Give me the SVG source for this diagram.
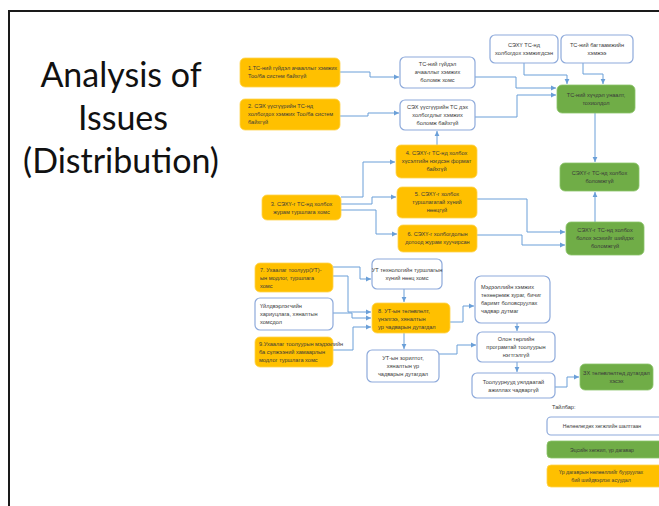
<svg xmlns="http://www.w3.org/2000/svg" width="659" height="506" viewBox="0 0 659 506">
  <style>
    .frame { fill: none; stroke: #1a1a1a; stroke-width: 2; }
    .title { font-family: Lato, "Open Sans", sans-serif; font-size: 34px; fill: #111; text-anchor: middle; }
    .w { fill: #ffffff; stroke: #8eaadb; stroke-width: 1.2; }
    .o { fill: #ffc000; stroke: #ffd34d; stroke-width: 0.8; }
    .g { fill: #70ad47; stroke: #8cc46a; stroke-width: 0.8; }
    .t { font-family: "Liberation Sans", Arial, sans-serif; font-size: 5.6px; fill: #3a3a3a; text-anchor: middle; }
    .tl { font-family: "Liberation Sans", Arial, sans-serif; font-size: 5.6px; fill: #3a3a3a; }
    .lg { font-family: "Liberation Sans", Arial, sans-serif; font-size: 5.1px; fill: #3a3a3a; text-anchor: middle; }
    .c { fill: none; stroke: #6a9fd8; stroke-width: 1; marker-end: url(#ah); }
  </style>
  <defs>
    <marker id="ah" markerWidth="6" markerHeight="6" refX="5" refY="3" orient="auto" markerUnits="userSpaceOnUse">
      <path d="M0,0.6 L5,3 L0,5.4 Z" fill="#6a9fd8"/>
    </marker>
  </defs>

  <rect width="659" height="506" fill="#ffffff"/>
  <!-- slide frame -->
  <path class="frame" d="M9,506 V11 H659"/>

  <!-- slide title -->
  <g id="title">
    <text class="title" x="121" y="87">Analysis of</text>
    <text class="title" x="123" y="130">Issues</text>
    <text class="title" x="121" y="173">(Distribution)</text>
  </g>

  <!-- connectors -->
  <g id="connectors">
    <path class="c" d="M340,72 H370 V77 H399"/>
    <path class="c" d="M340,116 H368 V113 H399"/>
    <path class="c" d="M475,77 H516 V88 H556"/>
    <path class="c" d="M475,117 H517 V95 H556"/>
    <path class="c" d="M524,63 V75 H567 V84"/>
    <path class="c" d="M583,63 V74 H603 V84"/>
    <path class="c" d="M595,113 V162"/>
    <path class="c" d="M595,222 V192"/>
    <path class="c" d="M437,145 V131"/>
    <path class="c" d="M341,197 H363 V162 H395"/>
    <path class="c" d="M341,204 H372 V197 H396"/>
    <path class="c" d="M341,210 H376 V234 H397"/>
    <path class="c" d="M477,199 H527 V232 H565"/>
    <path class="c" d="M477,235 H522 V245 H565"/>
    <path class="c" d="M333,267 H360 V279 H371"/>
    <path class="c" d="M333,276 H348 V312 H371"/>
    <path class="c" d="M333,313 H352 V318 H371"/>
    <path class="c" d="M333,350 H353 V327 H371"/>
    <path class="c" d="M404,289 V302"/>
    <path class="c" d="M404,333 V349"/>
    <path class="c" d="M450,322 H463 V306 H474"/>
    <path class="c" d="M439,354 H457 V345 H476"/>
    <path class="c" d="M517,323 V331"/>
    <path class="c" d="M517,362 V372"/>
    <path class="c" d="M555,387 H567 V377 H579"/>
  </g>

  <!-- upper block -->
  <g id="n1">
    <rect class="o" x="240" y="58" width="100" height="29" rx="5"/>
    <text class="tl" x="248" y="70">1.ТС-ний гүйдэл ачааллыг хэмжих</text>
    <text class="tl" x="248" y="78">Тоо/ба систем байхгүй</text>
  </g>
  <g id="n2">
    <rect class="o" x="240" y="99" width="100" height="31" rx="5"/>
    <text class="tl" x="248" y="108">2. СЭХ үүсгүүрийн ТС-нд</text>
    <text class="tl" x="248" y="116">холбогдох хэмжих Тоо/ба систем</text>
    <text class="tl" x="248" y="124">байхгүй</text>
  </g>
  <g id="nA">
    <rect class="w" x="400" y="57" width="75" height="31" rx="5"/>
    <text class="t" x="437.5" y="66">ТС-ний гүйдэл</text>
    <text class="t" x="437.5" y="74">ачааллыг хэмжих</text>
    <text class="t" x="437.5" y="82">боломж хомс</text>
  </g>
  <g id="nB">
    <rect class="w" x="400" y="100" width="75" height="30" rx="5"/>
    <text class="t" x="437.5" y="109">СЭХ үүсгүүрийн ТС дэх</text>
    <text class="t" x="437.5" y="117">холбогдлыг хэмжих</text>
    <text class="t" x="437.5" y="125">боломж байхгүй</text>
  </g>
  <g id="nC">
    <rect class="w" x="490" y="35" width="68" height="28" rx="5"/>
    <text class="t" x="524" y="47">СЭХҮ ТС-нд</text>
    <text class="t" x="524" y="55">холбогдох хэмжигдсэн</text>
  </g>
  <g id="nD">
    <rect class="w" x="561" y="35" width="72" height="28" rx="5"/>
    <text class="t" x="597" y="47">ТС-ний багтаамжийн</text>
    <text class="t" x="597" y="55">хэмжээ</text>
  </g>
  <g id="nG1">
    <rect class="g" x="557" y="85" width="78" height="28" rx="5"/>
    <text class="t" x="596" y="97">ТС-ний хүчдэл унаалт,</text>
    <text class="t" x="596" y="105">тохиолдол</text>
  </g>
  <g id="nG2">
    <rect class="g" x="560" y="163" width="79" height="28" rx="5"/>
    <text class="t" x="599.5" y="175">СЭХҮ-г ТС-нд холбох</text>
    <text class="t" x="599.5" y="183">боломжгүй</text>
  </g>
  <g id="nG3">
    <rect class="g" x="566" y="222" width="78" height="33" rx="5"/>
    <text class="t" x="605" y="232">СЭХҮ-г ТС-нд холбох</text>
    <text class="t" x="605" y="240">болох эсэхийг шийдэх</text>
    <text class="t" x="605" y="248">боломжгүй</text>
  </g>
  <g id="n3">
    <rect class="o" x="262" y="195" width="79" height="25" rx="5"/>
    <text class="t" x="301.5" y="206">3. СЭХҮ-г ТС-нд холбох</text>
    <text class="t" x="301.5" y="214">журам туршлага хомс</text>
  </g>
  <g id="n4">
    <rect class="o" x="396" y="145" width="81" height="33" rx="5"/>
    <text class="t" x="436.5" y="155">4. СЭХҮ-г ТС-нд холбох</text>
    <text class="t" x="436.5" y="163">хүсэлтийн нэгдсэн формат</text>
    <text class="t" x="436.5" y="171">байхгүй</text>
  </g>
  <g id="n5">
    <rect class="o" x="397" y="187" width="80" height="31" rx="5"/>
    <text class="t" x="437" y="196">5. СЭХҮ-г холбох</text>
    <text class="t" x="437" y="204">туршлагатай хүний</text>
    <text class="t" x="437" y="212">нөөцгүй</text>
  </g>
  <g id="n6">
    <rect class="o" x="398" y="225" width="79" height="27" rx="5"/>
    <text class="t" x="437.5" y="236">6. СЭХҮ-г холбогдолын</text>
    <text class="t" x="437.5" y="244">дотоод журам хуучирсан</text>
  </g>

  <!-- lower block -->
  <g id="n7">
    <rect class="o" x="255" y="263" width="78" height="29" rx="5"/>
    <text class="tl" x="260" y="272">7. Ухаалаг тоолуур(УТ)-</text>
    <text class="tl" x="260" y="280">ын модлог, туршлага</text>
    <text class="tl" x="260" y="288">хомс</text>
  </g>
  <g id="nP">
    <rect class="w" x="255" y="298" width="78" height="32" rx="5"/>
    <text class="tl" x="260" y="308">Үйлдвэрлэгчийн</text>
    <text class="tl" x="260" y="316">хариуцлага, хяналтын</text>
    <text class="tl" x="260" y="324">хомсдол</text>
  </g>
  <g id="n9">
    <rect class="o" x="255" y="337" width="78" height="30" rx="5"/>
    <text class="tl" x="259" y="346">9.Ухаалаг тоолуурын мэдээлийн</text>
    <text class="tl" x="259" y="354">ба сүлжээний хамаарлын</text>
    <text class="tl" x="259" y="362">модлог туршлага хомс</text>
  </g>
  <g id="nU">
    <rect class="w" x="372" y="259" width="70" height="30" rx="5"/>
    <text class="t" x="407" y="272">УТ технологийн туршлагын</text>
    <text class="t" x="407" y="280">хүний нөөц хомс</text>
  </g>
  <g id="n8">
    <rect class="o" x="372" y="303" width="78" height="30" rx="5"/>
    <text class="tl" x="378" y="313">8. УТ-ын төлөвлөлт,</text>
    <text class="tl" x="378" y="321">үнэлгээ, хяналтын</text>
    <text class="tl" x="378" y="329">ур чадварын дутагдал</text>
  </g>
  <g id="nZ">
    <rect class="w" x="367" y="350" width="72" height="32" rx="5"/>
    <text class="t" x="403" y="360">УТ-ын зорилтот,</text>
    <text class="t" x="403" y="368">хяналтын үр</text>
    <text class="t" x="403" y="376">чадварын дутагдал</text>
  </g>
  <g id="nM">
    <rect class="w" x="475" y="276" width="75" height="47" rx="6"/>
    <text class="tl" x="481" y="289">Мэдээллийн хэмжих</text>
    <text class="tl" x="481" y="297">төхөөрөмж зураг, бичиг</text>
    <text class="tl" x="481" y="305">баримт боловсруулах</text>
    <text class="tl" x="481" y="313">чадвар дутмаг</text>
  </g>
  <g id="nO">
    <rect class="w" x="477" y="332" width="78" height="30" rx="5"/>
    <text class="t" x="516" y="341">Олон төрлийн</text>
    <text class="t" x="516" y="349">програмтай тоолуурын</text>
    <text class="t" x="516" y="357">нэгтгэлгүй</text>
  </g>
  <g id="nT">
    <rect class="w" x="472" y="373" width="83" height="25" rx="5"/>
    <text class="t" x="513.5" y="384">Тоолуурнууд уялдаатай</text>
    <text class="t" x="513.5" y="392">ажиллах чадваргүй</text>
  </g>
  <g id="nG4">
    <rect class="g" x="580" y="364" width="73" height="26" rx="5"/>
    <text class="t" x="616.5" y="375">ЗХ төлөвлөлтөд дутагдал</text>
    <text class="t" x="616.5" y="383">хэсэх</text>
  </g>

  <!-- legend -->
  <g id="legend">
    <text class="tl" x="552" y="409">Тайлбар:</text>
    <rect class="w" x="547" y="417" width="120" height="18" rx="4"/>
    <text class="lg" x="602" y="428">Нөлөөлөгдөх хөгжлийн шалтгаан</text>
    <rect class="g" x="547" y="441" width="120" height="17" rx="4"/>
    <text class="lg" x="602" y="451.5">Эцсийн хөгжил, үр дагавар</text>
    <rect class="o" x="547" y="465" width="120" height="22" rx="4"/>
    <text class="lg" x="601" y="474">Үр дагаврын нөлөөллийг бууруулах</text>
    <text class="lg" x="601" y="482">бий шийдвэрлэх асуудал</text>
  </g>
</svg>
